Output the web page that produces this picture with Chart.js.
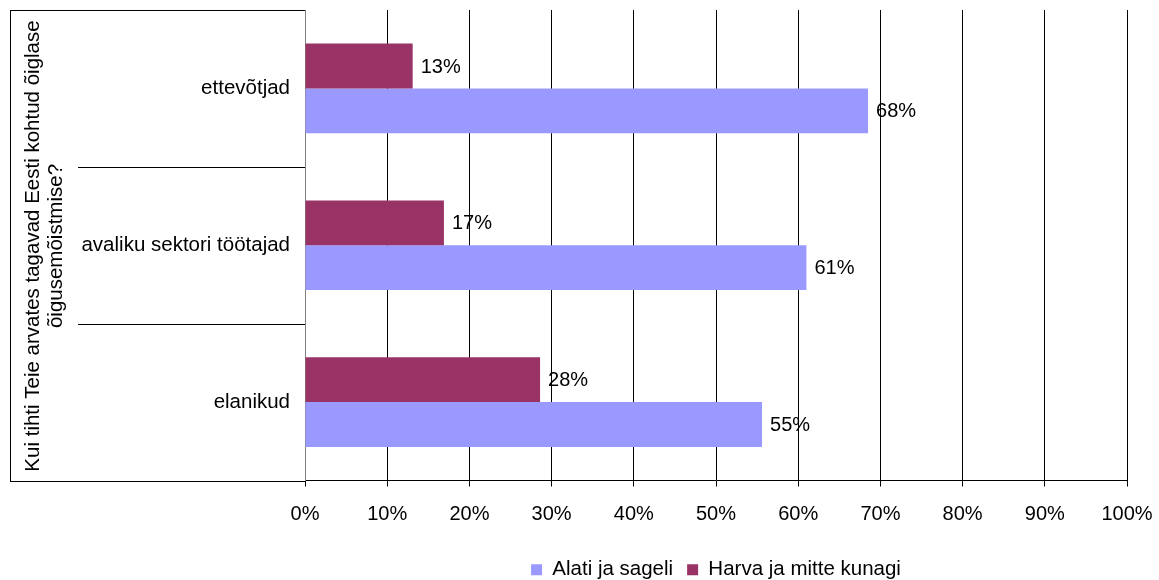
<!DOCTYPE html>
<html>
<head>
<meta charset="utf-8">
<script src="https://cdn.jsdelivr.net/npm/chart.js@4/dist/chart.umd.min.js"></script>
<style>
    body { margin: 0; background: #fff; }
    #wrap { width: 1159px; height: 580px; position: relative; }
</style>
</head>
<body>
<div id="wrap"><canvas id="surveyChart"></canvas></div>
<script>
// data
const categories = ['ettevõtjad', 'avaliku sektori töötajad', 'elanikud'];
const harvaValues = [13.1, 16.9, 28.6];
const alatiValues = [68.5, 61.0, 55.6];
const harvaLabels = ['13%', '17%', '28%'];
const alatiLabels = ['68%', '61%', '55%'];
const xTickValues = [0, 10, 20, 30, 40, 50, 60, 70, 80, 90, 100];
const questionLines = ['Kui tihti Teie arvates tagavad Eesti kohtud õiglase', 'õigusemõistmise?'];

const FONT = "'Liberation Sans', Arial, sans-serif";

// value labels at the end of every bar
const barLabels = {
    id: 'barLabels',
    afterDatasetsDraw(chart) {
        const ctx = chart.ctx;
        const texts = [harvaLabels, alatiLabels];
        ctx.save();
        ctx.font = '20px ' + FONT;
        ctx.fillStyle = '#000';
        ctx.textAlign = 'left';
        ctx.textBaseline = 'middle';
        chart.data.datasets.forEach(function(ds, di) {
            chart.getDatasetMeta(di).data.forEach(function(bar, i) {
                ctx.fillText(texts[di][i], bar.x + 8, bar.y + 1);
            });
        });
        ctx.restore();
    }
};

// category separators, outer frame and the rotated question
const categoryFrame = {
    id: 'categoryFrame',
    afterLayout(chart) {
        // center the legend under the plot area, not the whole canvas
        if (chart.legend) {
            chart.legend.left = chart.chartArea.left;
            chart.legend.right = chart.chartArea.right;
        }
    },
    afterDraw(chart) {
        const ctx = chart.ctx;
        const area = chart.chartArea;
        const yScale = chart.scales.y;
        const outerX = 10;
        const innerX = 78;
        ctx.save();
        ctx.strokeStyle = '#000';
        ctx.lineWidth = 1;
        for (let i = 0; i <= categories.length; i++) {
            const py = Math.round(yScale.getPixelForValue(i - 0.5)) + 0.5;
            const startX = (i === 0 || i === categories.length) ? outerX : innerX;
            ctx.beginPath();
            ctx.moveTo(startX, py);
            ctx.lineTo(area.left, py);
            ctx.stroke();
        }
        const top = Math.round(yScale.getPixelForValue(-0.5)) + 0.5;
        const bottom = Math.round(yScale.getPixelForValue(categories.length - 0.5)) + 0.5;
        ctx.beginPath();
        ctx.moveTo(outerX + 0.5, top);
        ctx.lineTo(outerX + 0.5, bottom);
        ctx.stroke();

        ctx.translate(44, (top + bottom) / 2);
        ctx.rotate(-Math.PI / 2);
        ctx.font = '20.5px ' + FONT;
        ctx.fillStyle = '#000';
        ctx.textAlign = 'center';
        ctx.textBaseline = 'middle';
        ctx.fillText(questionLines[0], 0, -11);
        ctx.fillText(questionLines[1], 0, 12);
        ctx.restore();
    }
};

const ctx = document.getElementById('surveyChart').getContext('2d');
new Chart(ctx, {
    type: 'bar',
    data: {
        labels: categories,
        datasets: [{
            label: 'Harva ja mitte kunagi',
            data: harvaValues,
            backgroundColor: '#993366',
            borderWidth: 0,
            categoryPercentage: 0.572,
            barPercentage: 1
        }, {
            label: 'Alati ja sageli',
            data: alatiValues,
            backgroundColor: '#9999FF',
            borderWidth: 0,
            categoryPercentage: 0.572,
            barPercentage: 1
        }]
    },
    options: {
        indexAxis: 'y',
        responsive: true,
        maintainAspectRatio: false,
        animation: false,
        layout: {
            padding: { top: 10, right: 32, left: 0, bottom: -10 }
        },
        scales: {
            x: {
                min: 0,
                max: 100,
                afterBuildTicks: function(scale) {
                    scale.ticks = xTickValues.map(v => ({ value: v }));
                },
                afterFit: function(scale) {
                    scale.height = 65;
                    scale.paddingLeft = 0;
                    scale.paddingRight = 0;
                },
                ticks: {
                    callback: v => v + '%',
                    color: '#000',
                    padding: 16,
                    font: { family: FONT, size: 20 }
                },
                grid: {
                    color: '#000',
                    lineWidth: 1,
                    tickLength: 6
                },
                border: { color: '#000' }
            },
            y: {
                afterFit: function(scale) {
                    scale.width = 305;
                    scale.paddingTop = 0;
                    scale.paddingBottom = 0;
                },
                ticks: {
                    color: '#000',
                    padding: 7,
                    font: { family: FONT, size: 20.5 }
                },
                grid: { display: false },
                border: { color: '#808080' }
            }
        },
        plugins: {
            legend: {
                position: 'bottom',
                reverse: true,
                labels: {
                    color: '#000',
                    boxWidth: 11,
                    boxHeight: 11,
                    padding: 14,
                    font: { family: FONT, size: 20.5 }
                }
            },
            tooltip: { enabled: false }
        }
    },
    plugins: [barLabels, categoryFrame]
});
</script>
</body>
</html>
